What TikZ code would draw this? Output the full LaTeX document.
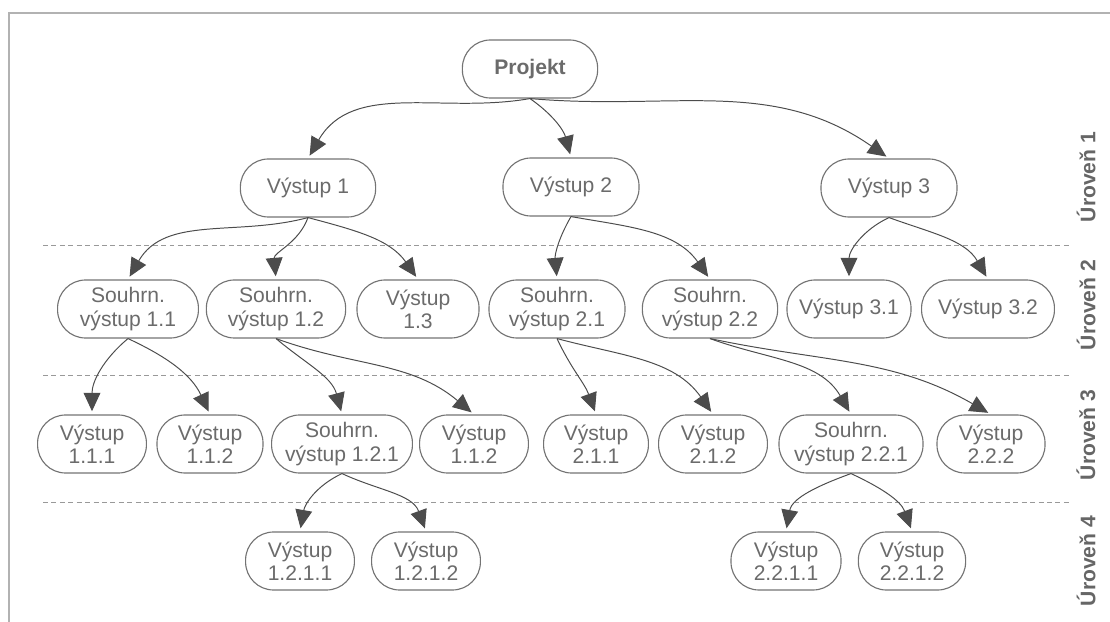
\documentclass[tikz,border=0pt]{standalone}
\usepackage{fontspec}
\setmainfont{Liberation Sans}
\usetikzlibrary{arrows.meta}

\begin{document}
\begin{tikzpicture}[
    x=0.025cm, y=-0.025cm,
    box/.style={
        draw=black!55, line width=0.8pt, rounded corners=0.7cm,
        minimum height=1.45cm, inner sep=0pt, align=center,
        text=black!58, font=\fontsize{15}{16.5}\selectfont
    },
    link/.style={
        draw=black!70, line width=0.7pt,
        -{Triangle[length=0.46cm, width=0.42cm]}, shorten >=0.08cm
    },
    levelline/.style={black!40, line width=0.7pt, dash pattern=on 3.5pt off 2.5pt},
    levellabel/.style={
        rotate=90, text=black!60,
        font=\fontsize{15}{16.5}\selectfont\bfseries
    }
]

\useasboundingbox (0, 0) rectangle (1110, 622);

% Frame
\draw[black!30, line width=1.4pt] (9, 622) -- (9, 13) -- (1110, 13);

% Level separators
\draw[levelline] (43, 245) -- (1071, 245);
\draw[levelline] (43, 375) -- (1071, 375);
\draw[levelline] (43, 502) -- (1071, 502);

% Level labels
\node[levellabel] (lab1) at (1086, 177) {Úroveň 1};
\node[levellabel] (lab2) at (1086, 305) {Úroveň 2};
\node[levellabel] (lab3) at (1086, 435) {Úroveň 3};
\node[levellabel] (lab4) at (1086, 561) {Úroveň 4};

% Root
\node[box, minimum width=3.38cm, font=\fontsize{15}{16.5}\selectfont\bfseries] (proj) at (530, 69) {Projekt};

% Level 1
\node[box, minimum width=3.38cm] (v1) at (308, 188) {Výstup 1};
\node[box, minimum width=3.4cm] (v2) at (571, 187) {Výstup 2};
\node[box, minimum width=3.4cm] (v3) at (889, 188) {Výstup 3};

% Level 2
\node[box, minimum width=3.52cm] (s11) at (128, 309) {Souhrn.\\výstup 1.1};
\node[box, minimum width=3.48cm] (s12) at (276, 309) {Souhrn.\\výstup 1.2};
\node[box, minimum width=3.05cm] (v13) at (418, 309) {Výstup\\1.3};
\node[box, minimum width=3.4cm] (s21) at (557, 309) {Souhrn.\\výstup 2.1};
\node[box, minimum width=3.38cm] (s22) at (710, 309) {Souhrn.\\výstup 2.2};
\node[box, minimum width=3.1cm] (v31) at (849, 309) {Výstup 3.1};
\node[box, minimum width=3.32cm] (v32) at (988, 309) {Výstup 3.2};

% Level 3
\node[box, minimum width=2.72cm] (v111) at (92, 444) {Výstup\\1.1.1};
\node[box, minimum width=2.65cm] (v112) at (210, 444) {Výstup\\1.1.2};
\node[box, minimum width=3.52cm] (s121) at (342, 444) {Souhrn.\\výstup 1.2.1};
\node[box, minimum width=2.72cm] (v122) at (474, 444) {Výstup\\1.1.2};
\node[box, minimum width=2.62cm] (v211) at (596, 444) {Výstup\\2.1.1};
\node[box, minimum width=2.72cm] (v212) at (713, 444) {Výstup\\2.1.2};
\node[box, minimum width=3.6cm] (s221) at (851, 444) {Souhrn.\\výstup 2.2.1};
\node[box, minimum width=2.7cm] (v222) at (991, 444) {Výstup\\2.2.2};

% Level 4
\node[box, minimum width=2.72cm] (v1211) at (300, 561) {Výstup\\1.2.1.1};
\node[box, minimum width=2.72cm] (v1212) at (426, 561) {Výstup\\1.2.1.2};
\node[box, minimum width=2.75cm] (v2211) at (786, 561) {Výstup\\2.2.1.1};
\node[box, minimum width=2.68cm] (v2212) at (912, 561) {Výstup\\2.2.1.2};

% Root -> level 1
\draw[link] (proj.south) to[out=190, in=60] (v1.north);
\draw[link] (proj.south) to[out=-35, in=105] (v2.north);
\draw[link] (proj.south) to[out=-5, in=145] (v3.north);

% Level 1 -> level 2
\draw[link] (v1.south) to[out=195, in=60] (s11.north);
\draw[link] (v1.south) to[out=-110, in=95] (s12.north);
\draw[link] (v1.south) to[out=-15, in=125] (v13.north);
\draw[link] (v2.south) to[out=-120, in=95] (s21.north);
\draw[link] (v2.south) to[out=-10, in=125] (s22.north);
\draw[link] (v3.south) to[out=205, in=90] (v31.north);
\draw[link] (v3.south) to[out=-20, in=120] (v32.north);

% Level 2 -> level 3
\draw[link] (s11.south) to[out=220, in=90] (v111.north);
\draw[link] (s11.south) to[out=-25, in=115] (v112.north);
\draw[link] (s12.south) to[out=-40, in=105] (s121.north);
\draw[link] (s12.south) to[out=-20, in=140] (v122.north);
\draw[link] (s21.south) to[out=-65, in=110] (v211.north);
\draw[link] (s21.south) to[out=-15, in=125] (v212.north);
\draw[link] (s22.south) to[out=-20, in=120] (s221.north);
\draw[link] (s22.south) to[out=-12, in=150] (v222.north);

% Level 3 -> level 4
\draw[link] (s121.south) to[out=205, in=80] (v1211.north);
\draw[link] (s121.south) to[out=-25, in=110] (v1212.north);
\draw[link] (s221.south) to[out=200, in=80] (v2211.north);
\draw[link] (s221.south) to[out=-25, in=110] (v2212.north);

\end{tikzpicture}
\end{document}
